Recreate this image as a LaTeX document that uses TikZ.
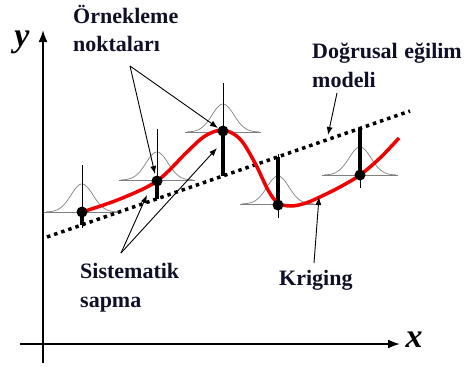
\documentclass[tikz,border=0pt]{standalone}
\usepackage{fontspec}
\setmainfont{Liberation Serif}
\usetikzlibrary{arrows.meta}
\definecolor{txt}{RGB}{15,15,40}
\definecolor{kred}{RGB}{240,0,0}
\begin{document}
\begin{tikzpicture}[x=1pt,y=-1pt,
  lbl/.style={font=\fontsize{22}{26}\selectfont\bfseries, text=txt, inner sep=0pt, anchor=base west},
  axlbl/.style={font=\fontsize{34}{40}\selectfont\bfseries\itshape, inner sep=0pt, anchor=base},
  ann/.style={line width=0.9pt, -{Latex[length=8pt,width=6pt]}},
  axisline/.style={line width=1.8pt, -{Latex[length=12pt,width=9pt]}},
  gauss/.style={gray, line width=0.7pt},
  thinbar/.style={line width=0.9pt},
  sapbar/.style={line width=3.5pt},
  trend/.style={line width=3.5pt, dash pattern=on 3.5pt off 4pt},
  krig/.style={kred, line width=3.5pt},
  dot/.style={circle, fill=black, inner sep=0pt, minimum size=11pt}
]
\useasboundingbox (0,0) rectangle (470,368);
% axes
\coordinate (yb) at (43,363); \coordinate (yt) at (43,30);
\coordinate (xl) at (20,344); \coordinate (xr) at (400,344);
\draw[axisline] (yb) -- (yt);
\draw[axisline] (xl) -- (xr);
\node[axlbl] (ylab) at (22,46) {y};
\node[axlbl] (xlab) at (414,347) {x};
% gaussians
\foreach \cx/\cy in {82/212, 157/180, 223/132, 278/204, 360/175} {
  \draw[gauss] (\cx-38,\cy) -- (\cx+38,\cy);
  \draw[gauss] plot[domain=-36:36,samples=73] ({\cx+\x},{\cy-28*exp(-0.5*(\x/11)*(\x/11))});
}
% trend line
\coordinate (t1) at (47,237); \coordinate (t2) at (410,111);
\draw[trend] (t1) -- (t2);
% sample points
\coordinate (p1) at (82,212);
\coordinate (p2) at (157,181);
\coordinate (p3) at (223,131);
\coordinate (p4) at (278,205);
\coordinate (p5) at (360,175);
% thin verticals
\draw[thinbar] (82,165) -- (82,228);
\draw[thinbar] (157,129) -- (157,199);
\draw[thinbar] (223,83) -- (223,176);
\draw[thinbar] (278,154) -- (278,218);
\draw[thinbar] (360,127) -- (360,188);
% thick deviation bars
\draw[sapbar] (p1) -- (82,225);
\draw[sapbar] (p2) -- (157,199);
\draw[sapbar] (p3) -- (223,176);
\draw[sapbar] (p4) -- (278,157);
\draw[sapbar] (p5) -- (360,128);
% kriging curve
\draw[krig] plot[smooth, tension=0.55] coordinates {(82,212) (120,199) (157,181) (187,152) (205,136) (223,130) (240,139) (255,163) (268,190) (278,203) (291,206) (306,203) (322,196) (340,187) (360,175) (380,158) (399,138)};
% dots
\foreach \p in {p1,p2,p3,p4,p5} \node[dot] at (\p) {};
% labels
\node[lbl] (ornek1) at (73,23) {Örnekleme};
\node[lbl] (ornek2) at (73,51) {noktaları};
\node[lbl] (dog1) at (312,58) {Doğrusal\hspace{0.3em}eğilim};
\node[lbl] (dog2) at (312,87) {modeli};
\node[lbl] (sis1) at (80,278) {Sistematik};
\node[lbl] (sis2) at (80,307) {sapma};
\node[lbl] (krg) at (279,285) {Kriging};
% annotation arrows
\coordinate (oa) at (130,66);
\coordinate (da) at (337,93);
\coordinate (sa) at (121,253);
\coordinate (ka) at (314,263);
\coordinate (oe1) at (155,174); \coordinate (oe2) at (218,128);
\coordinate (de) at (328,135);
\coordinate (se1) at (147,195); \coordinate (se2) at (217,148);
\coordinate (ke) at (319,197);
\draw[ann] (oa) -- (oe1);
\draw[ann] (oa) -- (oe2);
\draw[ann] (da) -- (de);
\draw[ann] (sa) -- (se1);
\draw[ann] (sa) -- (se2);
\draw[ann] (ka) -- (ke);
\end{tikzpicture}
\end{document}
